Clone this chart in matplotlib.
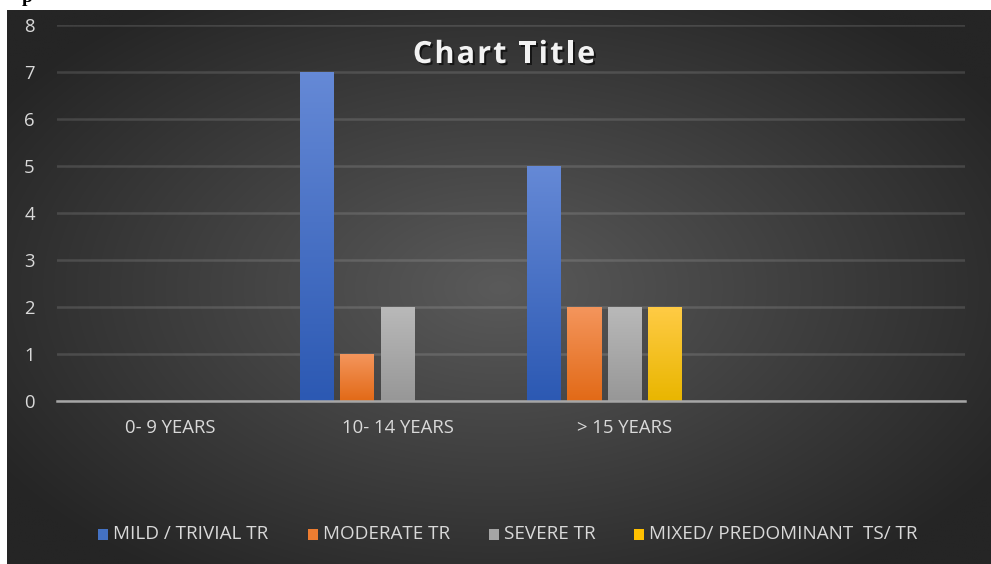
import numpy as np
import matplotlib
matplotlib.use("Agg")
import matplotlib.pyplot as plt
from matplotlib import patheffects as pe
from matplotlib.patches import Rectangle
from matplotlib.colors import LinearSegmentedColormap
from matplotlib.textpath import TextPath
from matplotlib.font_manager import FontProperties

# ---- data ----
categories = ["0- 9 YEARS", "10- 14 YEARS", "> 15 YEARS", ""]
series_names = ["MILD / TRIVIAL TR", "MODERATE TR", "SEVERE TR", "MIXED/ PREDOMINANT  TS/ TR"]
mild = [0, 7, 5, 0]
moderate = [0, 1, 2, 0]
severe = [0, 2, 2, 0]
mixed = [0, 0, 2, 0]
yticks = [0, 1, 2, 3, 4, 5, 6, 7, 8]
title = "Chart Title"

series_values = [mild, moderate, severe, mixed]
top_colors = ["#6589d6", "#f4955c", "#b9b9b9", "#ffcb45"]
bot_colors = ["#2c59b3", "#e26a17", "#979797", "#e9b600"]
mid_colors = ["#4472c4", "#ed7d31", "#a5a5a5", "#ffc000"]

W, H = 991, 564
fig = plt.figure(figsize=(W / 100, H / 100), dpi=100)
fig.patch.set_facecolor("white")

# background with radial gradient
bg = fig.add_axes([7 / W, 0, (W - 7) / W, (H - 10) / H])
bg.set_axis_off()
yy, xx = np.mgrid[0:300, 0:500]
cx, cy = 250, 150
r = np.sqrt(((xx - cx) / 300) ** 2 + ((yy - cy) / 190) ** 2)
r = np.clip(r, 0, 1)
light = np.array([0x5a, 0x5a, 0x5a]) / 255
dark = np.array([0x25, 0x25, 0x25]) / 255
img = light[None, None, :] * (1 - r[..., None]) + dark[None, None, :] * r[..., None]
bg.imshow(img, aspect="auto", extent=[0, 1, 0, 1], interpolation="bilinear")
bg.set_xlim(0, 1)
bg.set_ylim(0, 1)

ax = fig.add_axes([57 / W, 1 - 401 / H, (965 - 57) / W, (401 - 25) / H])
ax.set_facecolor("none")

n_slots = 5
pitch = 40.5 / 227
width = 34 / 227
x = np.arange(len(categories))
for j, vals in enumerate(series_values):
    pos = x + (j - (n_slots - 1) / 2) * pitch
    bars = ax.bar(pos, vals, width=width, color=mid_colors[j], zorder=3, label=series_names[j])
    cmap = LinearSegmentedColormap.from_list("g%d" % j, [bot_colors[j], top_colors[j]])
    for b in bars:
        h = b.get_height()
        if h <= 0:
            continue
        x0 = b.get_x()
        grad = np.linspace(1, 0, 100).reshape(-1, 1)
        ax.imshow(grad, extent=[x0, x0 + b.get_width(), 0, h], aspect="auto",
                  cmap=cmap, zorder=4, interpolation="bilinear")

ax.set_xlim(-0.5, len(categories) - 0.5)
ax.set_ylim(0, 8)
ax.set_yticks(yticks)
ax.set_xticks(x)
ax.set_xticklabels(categories)
ax.grid(axis="y", color="#ffffff", alpha=0.13, linewidth=1.8, zorder=1)
ax.set_axisbelow(True)
for s in ["top", "right", "left"]:
    ax.spines[s].set_visible(False)
ax.spines["bottom"].set_color("#a6a6a6")
ax.spines["bottom"].set_linewidth(1.8)
ax.spines["bottom"].set_zorder(5)
ax.tick_params(axis="both", length=0, colors="#d9d9d9", labelsize=13.3)
ax.tick_params(axis="y", pad=16)
ax.tick_params(axis="x", pad=13)
for t in ax.get_xticklabels() + ax.get_yticklabels():
    t.set_fontfamily("Open Sans")

# title with letter spacing (drawn char by char)
fp = FontProperties(family="Open Sans", weight="bold", size=22)
tracking = 2.2  # extra px between letters
px_per_pt = 100 / 72
widths = []
for ch in title:
    tp = TextPath((0, 0), ch if ch != " " else "n", prop=fp)
    adv = tp.get_extents().width if ch != " " else 6
    widths.append(adv)
# use advance widths from a renderer for accuracy
renderer = fig.canvas.get_renderer()
adv = []
for ch in title:
    t = fig.text(0, 0, ch, fontproperties=fp)
    if ch == " ":
        t.set_text("a a")
        w3 = t.get_window_extent(renderer).width
        t.set_text("aa")
        w2 = t.get_window_extent(renderer).width
        adv.append(w3 - w2)
    else:
        adv.append(t.get_window_extent(renderer).width)
    t.remove()
total = sum(adv) + tracking * (len(title) - 1)
cx_px = 504
xcur = cx_px - total / 2
for ch, a in zip(title, adv):
    if ch != " ":
        fig.text(xcur / W, 1 - 55 / H, ch, ha="left", va="center", color="#f2f2f2",
                 fontproperties=fp,
                 path_effects=[pe.withSimplePatchShadow(offset=(1.5, -1.5), shadow_rgbFace="black", alpha=0.6)])
    xcur += a + tracking

# legend (manual)
leg_x = [98, 308, 489, 634]
leg_y = 1 - 534 / H
for j, name in enumerate(series_names):
    fig.patches.append(Rectangle((leg_x[j] / W, leg_y - 5.5 / H), 10 / W, 11 / H,
                                 transform=fig.transFigure, facecolor=mid_colors[j],
                                 edgecolor="none"))
    fig.text((leg_x[j] + 15) / W, leg_y, name, ha="left", va="center",
             color="#d9d9d9", fontsize=13.6, family="Open Sans")

# partial black glyph at top-left (cut off text above the chart)
fig.text(22 / W, 1 - 2 / H, "p", ha="left", va="baseline", color="black",
         fontsize=14, fontweight="bold", family="Liberation Serif")

fig.savefig("out.png", dpi=100, facecolor="white")
